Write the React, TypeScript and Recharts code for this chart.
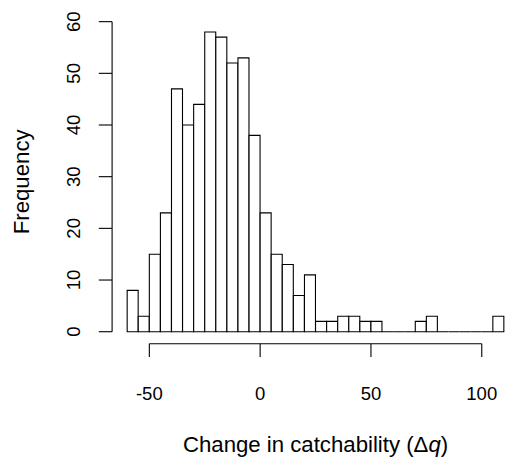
import React from 'react';
import { BarChart, Bar, XAxis, YAxis, ReferenceLine } from 'recharts';

// Histogram bins (lower edges) and counts
const binLower = [-60, -55, -50, -45, -40, -35, -30, -25, -20, -15, -10, -5, 0, 5, 10, 15, 20, 25, 30, 35, 40, 45, 50, 55, 60, 65, 70, 75, 80, 85, 90, 95, 100, 105];
const binWidth = 5;
const counts = [8, 3, 15, 23, 47, 40, 44, 58, 57, 52, 53, 38, 23, 15, 13, 7, 11, 2, 2, 3, 3, 2, 2, 0, 0, 0, 2, 3, 0, 0, 0, 0, 0, 3];
const xTicks = [-50, 0, 50, 100];
const yTicks = [0, 10, 20, 30, 40, 50, 60];
const xTitleText = 'Change in catchability (';
const yTitleText = 'Frequency';

const xDomain: [number, number] = [-66.8, 116.8];
const yDomain: [number, number] = [-2.32, 60.32];

const data = binLower.map((lo, i) => ({ mid: lo + binWidth / 2, count: counts[i] }));

const FONT = '"Liberation Sans", Arial, Helvetica, sans-serif';

const HistBar = (props: any) => {
  const { x, y, width, height } = props;
  if (x == null || y == null || width == null) return null;
  const h = height || 0;
  const top = Math.min(y, y + h);
  const bottom = Math.max(y, y + h);
  return (
    <path
      d={`M${x},${bottom}V${top}H${x + width}V${bottom}Z`}
      fill="#fff"
      stroke="#000"
      strokeWidth={1.1}
    />
  );
};

const YTick = (props: any) => {
  const { x, y, payload } = props;
  return (
    <text
      x={x}
      y={y}
      transform={`rotate(-90, ${x}, ${y})`}
      textAnchor="middle"
      fontSize={18.5}
      fill="#000"
      fontFamily={FONT}
    >
      {payload.value}
    </text>
  );
};

const XTitle = (props: any) => {
  const vb = props.viewBox || {};
  const cx = vb.x + vb.width / 2;
  const by = vb.y + 108;
  return (
    <text x={cx} y={by} textAnchor="middle" fontSize={22.2} fill="#000" fontFamily={FONT}>
      {xTitleText}Δ<tspan fontStyle="italic">q</tspan>)
    </text>
  );
};

const YTitle = (props: any) => {
  const vb = props.viewBox || {};
  const bx = vb.x + 29;
  const cy = vb.y + vb.height / 2;
  return (
    <text
      x={bx}
      y={cy}
      transform={`rotate(-90, ${bx}, ${cy})`}
      textAnchor="middle"
      fontSize={22.2}
      fill="#000"
      fontFamily={FONT}
    >
      {yTitleText}
    </text>
  );
};

export default function App() {
  return (
    <div
      style={{
        position: 'absolute',
        left: 0,
        top: 0,
        width: 505,
        height: 464,
        overflow: 'hidden',
        background: '#fff',
        fontFamily: FONT,
      }}
    >
      <BarChart
        width={520}
        height={464}
        data={data}
        margin={{ top: 20, right: 1, bottom: 0, left: 0 }}
        barCategoryGap={0}
        barGap={0}
      >
        <XAxis
          type="number"
          dataKey="mid"
          domain={xDomain}
          allowDataOverflow
          ticks={xTicks}
          interval={0}
          axisLine={false}
          tickLine={{ stroke: '#000', strokeWidth: 1.1 }}
          tickSize={13.3}
          tickMargin={29.9}
          height={120.3}
          tick={{ fill: '#000', fontSize: 18.5, fontFamily: FONT }}
          label={XTitle}
        />
        <YAxis
          type="number"
          domain={yDomain}
          allowDataOverflow
          ticks={yTicks}
          interval={0}
          axisLine={false}
          tickLine={{ stroke: '#000', strokeWidth: 1.1 }}
          tickSize={13.3}
          tickMargin={18.8}
          width={112.1}
          tick={<YTick />}
          label={YTitle}
        />
        <Bar dataKey="count" shape={HistBar} isAnimationActive={false} />
        <ReferenceLine
          segment={[{ x: xTicks[0], y: yDomain[0] }, { x: xTicks[xTicks.length - 1], y: yDomain[0] }]}
          stroke="#000"
          strokeWidth={1.1}
          ifOverflow="visible"
        />
        <ReferenceLine
          segment={[{ x: xDomain[0], y: yTicks[0] }, { x: xDomain[0], y: yTicks[yTicks.length - 1] }]}
          stroke="#000"
          strokeWidth={1.1}
          ifOverflow="visible"
        />
      </BarChart>
    </div>
  );
}
